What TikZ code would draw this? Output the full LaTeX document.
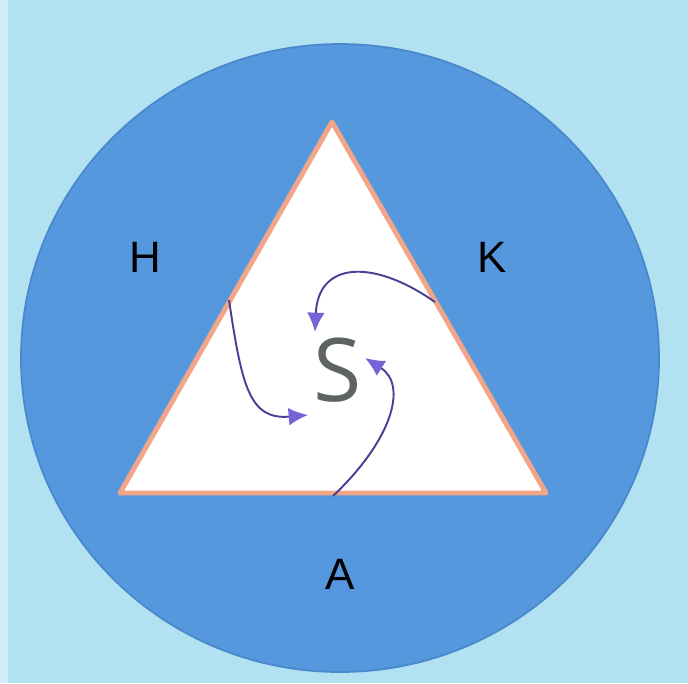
\documentclass[tikz,border=0pt]{standalone}
\usepackage{fontspec}
\setmainfont{Liberation Sans}
\newfontfamily\sfont{Open Sans}
\usetikzlibrary{arrows.meta}
\definecolor{skyback}{HTML}{B2E2F2}
\definecolor{discblue}{HTML}{5598DE}
\definecolor{discedge}{HTML}{4A88CC}
\definecolor{salmon}{HTML}{F2A587}
\definecolor{inkline}{HTML}{4A3F95}
\definecolor{inktip}{HTML}{7664D6}
\definecolor{sgrey}{HTML}{5E6464}
\begin{document}
\begin{tikzpicture}[x=0.02cm,y=-0.02cm, letter/.style={font=\fontsize{25}{25}\selectfont,text=black,inner sep=0pt}, swirl/.style={draw=inkline,line width=1.1pt,-{Latex[length=11pt,width=10pt,fill=inktip,color=inktip]}}]
\useasboundingbox (0,0) rectangle (688,683);
\fill[skyback] (0,0) rectangle (688,683);
\fill[skyback!60!white] (0,0) rectangle (8,683);
\filldraw[fill=discblue,draw=discedge,line width=1pt] (340,358) ellipse (319 and 314);
\filldraw[fill=white,draw=salmon,line width=2.8pt,line join=round] (332,122) -- (546,493) -- (120,493) -- cycle;
\node[letter] (h) at (145,257) {H};
\node[letter] (k) at (492,257) {K};
\node[letter] (a) at (340,574) {A};
\node[font=\sfont\fontsize{50}{50}\selectfont,text=sgrey,inner sep=0pt] (s) at (338,370) {S};
\coordinate (h1) at (229,300); \coordinate (h2) at (308,415);
\coordinate (k1) at (435,302); \coordinate (k2) at (315,332);
\coordinate (a1) at (333,496); \coordinate (a2) at (365,358);
\draw[swirl] (h1) .. controls (242,388) and (250,420) .. (h2);
\draw[swirl] (k1) .. controls (372,258) and (318,262) .. (k2);
\draw[swirl] (a1) .. controls (392,440) and (408,385) .. (a2);
\end{tikzpicture}
\end{document}
